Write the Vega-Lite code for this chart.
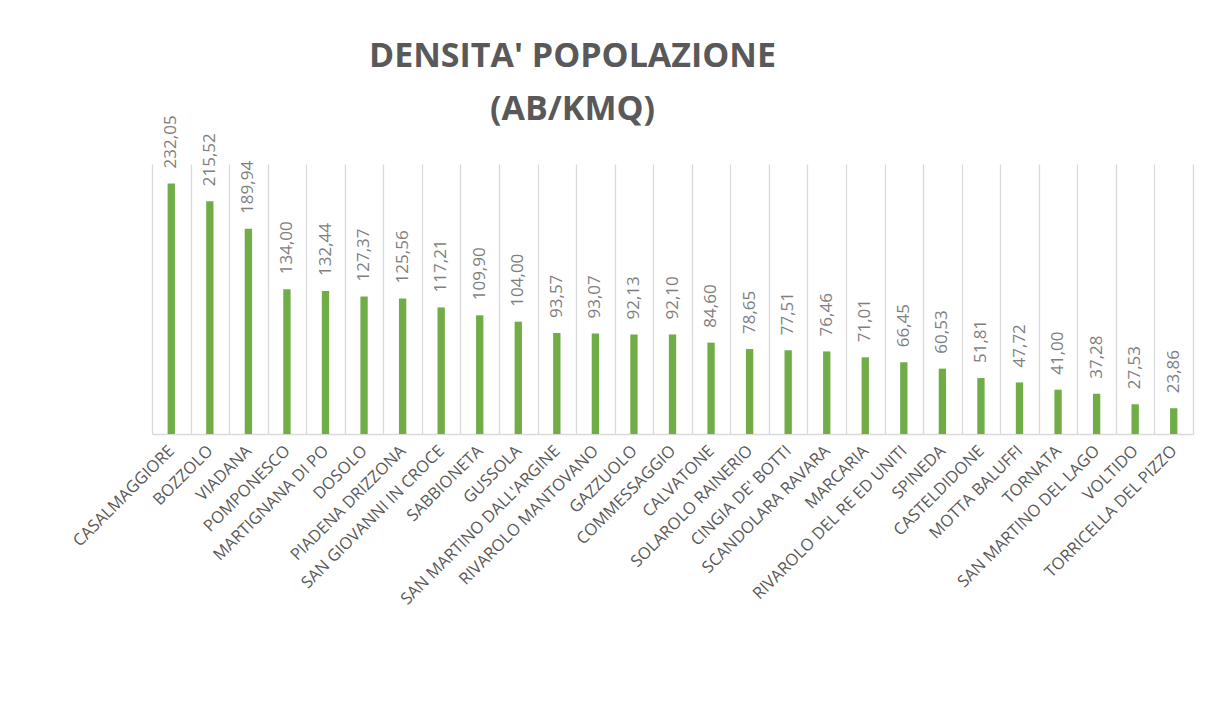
{
  "$schema": "https://vega.github.io/schema/vega-lite/v6.json",
  "autosize": "none",
  "width": 1041,
  "height": 270,
  "padding": {"left": 152, "top": 164, "right": 25, "bottom": 270},
  "background": "white",
  "config": {
    "locale": {"number": {"decimal": ",", "thousands": ".", "grouping": [3], "currency": ["", " €"]}},
    "view": {"stroke": null}
  },
  "title": {
    "text": ["DENSITA' POPOLAZIONE", "(AB/KMQ)"],
    "font": "Open Sans",
    "fontSize": 34,
    "fontWeight": "bold",
    "color": "#595959",
    "anchor": "middle",
    "dx": -100,
    "lineHeight": 53,
    "offset": -12
  },
  "data": {
    "values": [
      {"comune": "CASALMAGGIORE", "densita": 232.05},
      {"comune": "BOZZOLO", "densita": 215.52},
      {"comune": "VIADANA", "densita": 189.94},
      {"comune": "POMPONESCO", "densita": 134.00},
      {"comune": "MARTIGNANA DI PO", "densita": 132.44},
      {"comune": "DOSOLO", "densita": 127.37},
      {"comune": "PIADENA DRIZZONA", "densita": 125.56},
      {"comune": "SAN GIOVANNI IN CROCE", "densita": 117.21},
      {"comune": "SABBIONETA", "densita": 109.90},
      {"comune": "GUSSOLA", "densita": 104.00},
      {"comune": "SAN MARTINO DALL'ARGINE", "densita": 93.57},
      {"comune": "RIVAROLO MANTOVANO", "densita": 93.07},
      {"comune": "GAZZUOLO", "densita": 92.13},
      {"comune": "COMMESSAGGIO", "densita": 92.10},
      {"comune": "CALVATONE", "densita": 84.60},
      {"comune": "SOLAROLO RAINERIO", "densita": 78.65},
      {"comune": "CINGIA DE' BOTTI", "densita": 77.51},
      {"comune": "SCANDOLARA RAVARA", "densita": 76.46},
      {"comune": "MARCARIA", "densita": 71.01},
      {"comune": "RIVAROLO DEL RE ED UNITI", "densita": 66.45},
      {"comune": "SPINEDA", "densita": 60.53},
      {"comune": "CASTELDIDONE", "densita": 51.81},
      {"comune": "MOTTA BALUFFI", "densita": 47.72},
      {"comune": "TORNATA", "densita": 41.00},
      {"comune": "SAN MARTINO DEL LAGO", "densita": 37.28},
      {"comune": "VOLTIDO", "densita": 27.53},
      {"comune": "TORRICELLA DEL PIZZO", "densita": 23.86}
    ]
  },
  "encoding": {
    "x": {
      "field": "comune",
      "type": "nominal",
      "sort": null,
      "scale": {"paddingInner": 0, "paddingOuter": 0},
      "axis": {
        "title": null,
        "tickBand": "extent",
        "grid": true,
        "gridColor": "#d9d9d9",
        "gridWidth": 1.3,
        "domainColor": "#d9d9d9",
        "domainWidth": 1.5,
        "ticks": false,
        "labelAngle": -45,
        "labelAlign": "right",
        "labelBaseline": "middle",
        "labelPadding": 14,
        "labelFont": "Open Sans",
        "labelFontSize": 16.5,
        "labelColor": "#595959",
        "labelLimit": 400
      }
    },
    "y": {
      "field": "densita",
      "type": "quantitative",
      "scale": {"domain": [0, 250], "nice": false},
      "axis": null
    }
  },
  "layer": [
    {
      "mark": {"type": "bar", "color": "#70ad47", "width": {"band": 0.19}}
    },
    {
      "mark": {
        "type": "text",
        "angle": -90,
        "align": "left",
        "baseline": "middle",
        "dx": 15,
        "font": "Open Sans",
        "fontSize": 17,
        "color": "#7f7f7f"
      },
      "encoding": {
        "text": {"field": "densita", "type": "quantitative", "format": ".2f"}
      }
    }
  ]
}
